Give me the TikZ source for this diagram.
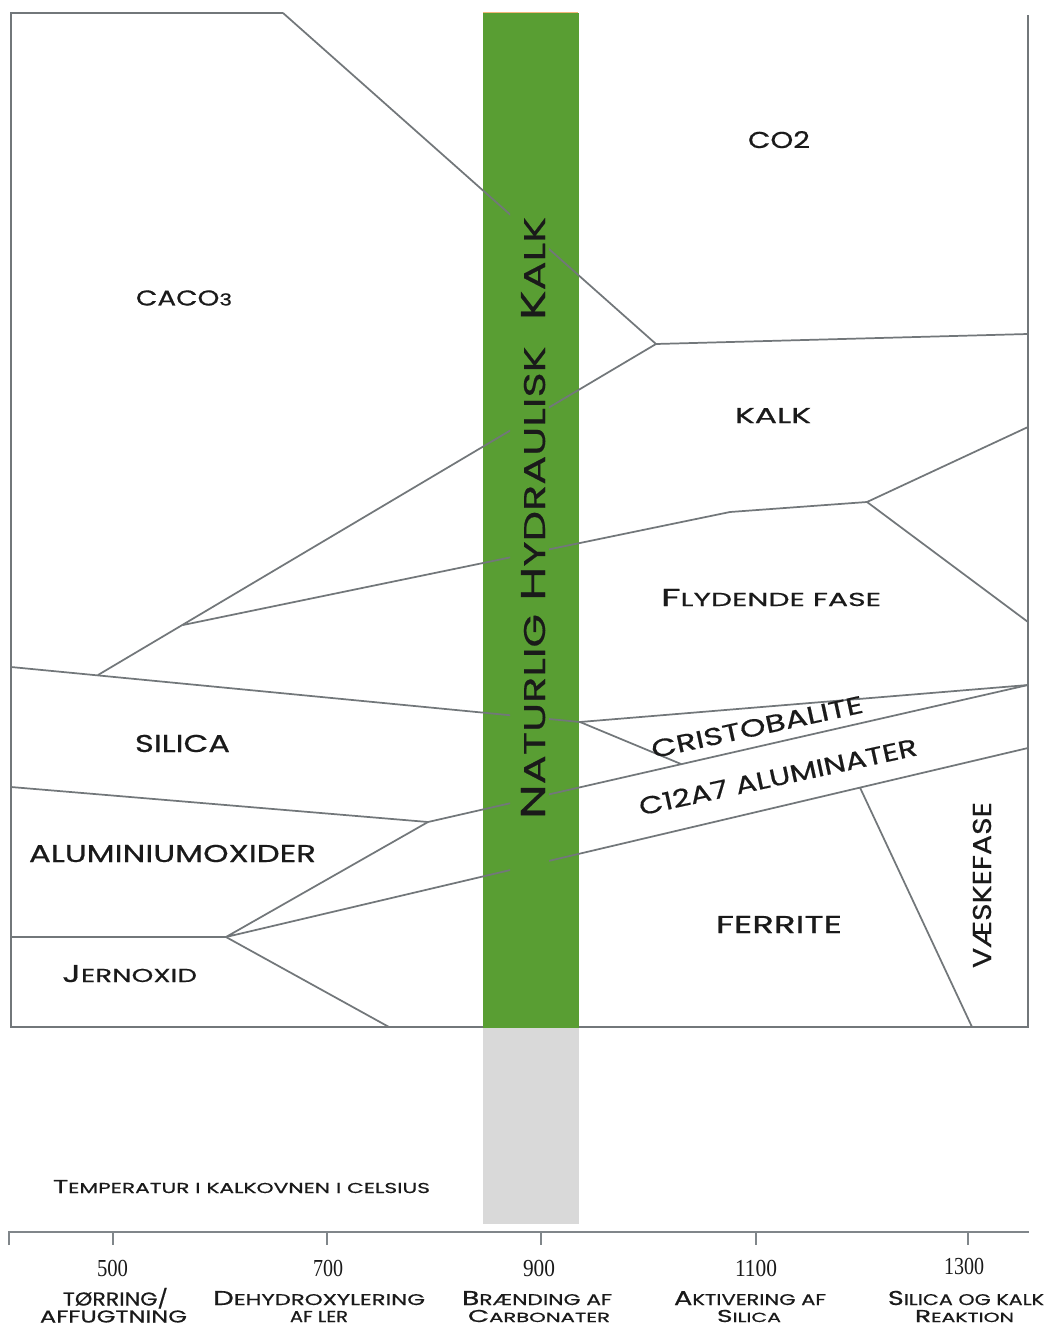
\documentclass[tikz,border=0pt]{standalone}
\usepackage{fontspec}
\usepackage{graphicx}
\setmainfont{Poppins}[FakeBold=0.5]
\newfontfamily\numfont{Liberation Serif}
\newdimen\px \px=0.75pt
\newcommand\Sm[1]{{\fontsize{7.7}{8}\selectfont #1}}
\newcommand\Sv[1]{{\fontsize{8.7}{9}\selectfont #1}}
\newcommand\fit[3]{\resizebox{#1\px}{#2\px}{\smash{#3}\vphantom{T}}}
\definecolor{barGreen}{HTML}{599E33}
\definecolor{barGray}{HTML}{D9D9D9}
\definecolor{lineGray}{HTML}{72777A}
\definecolor{axisGray}{HTML}{80868A}
\definecolor{txt}{HTML}{1A1A1A}
\definecolor{topOrange}{HTML}{F3B67A}
\newcommand\phaselines{%
  \draw[pl] (tt) -- (J1) -- (Rco);
  \draw[pl] (J1) -- (A);
  \draw[pl] (B) -- (Bend) -- (J2) -- (R2);
  \draw[pl] (J2) -- (R3);
  \draw[pl] (S0) -- (J3) -- (R4);
  \draw[pl] (J3) -- (C1);
  \draw[pl] (Al0) -- (J4) -- (R4);
  \draw[pl] (J4) -- (J5) -- (R5);
  \draw[pl] (Fe0) -- (J5) -- (Fe1);
  \draw[pl] (V1) -- (V2);
}
\begin{document}
\begin{tikzpicture}[x={(0.75pt,0)},y={(0,-0.75pt)},
  pl/.style={draw=lineGray, line width=1.3pt, line join=round},
  framel/.style={draw=lineGray, line width=1.6pt},
  axisl/.style={draw=axisGray, line width=2pt},
  lab/.style={inner sep=0pt, outer sep=0pt, text=txt, font=\fontsize{10}{12}\selectfont},
  num/.style={inner sep=0pt, outer sep=0pt, text=txt, font=\numfont\fontsize{10}{12}\selectfont}]
\useasboundingbox (0,0) rectangle (1045,1326);
\fill[white] (0,0) rectangle (1045,1326);
% bars
\fill[barGreen] (483,13) rectangle (579,1028);
\fill[barGray] (483,1028) rectangle (579,1224);
\draw[topOrange, line width=0.8pt] (483,12.3) -- (578,12.3);
% coordinates
\coordinate (tl) at (11,13);
\coordinate (tt) at (283,13);
\coordinate (bl) at (11,1027);
\coordinate (br) at (1028,1027);
\coordinate (tr) at (1028,15);
\coordinate (J1) at (656,344);
\coordinate (Rco) at (1028,334);
\coordinate (A) at (98,675);
\coordinate (B) at (183,625);
\coordinate (Bend) at (730,512);
\coordinate (J2) at (867,502);
\coordinate (R2) at (1028,427);
\coordinate (R3) at (1028,622);
\coordinate (S0) at (11,667);
\coordinate (J3) at (580,722);
\coordinate (R4) at (1028,685);
\coordinate (C1) at (681,764);
\coordinate (J4) at (428,822);
\coordinate (Al0) at (11,787);
\coordinate (J5) at (226,937);
\coordinate (Fe0) at (11,937);
\coordinate (Fe1) at (389,1027);
\coordinate (R5) at (1028,748);
\coordinate (V1) at (860,787.6);
\coordinate (V2) at (972,1027);
\coordinate (gl) at (483,1027);
\coordinate (gr) at (579,1027);
% frame
\draw[framel] (tt) -- (tl) -- (bl) -- (gl);
\draw[framel] (gr) -- (br) -- (tr);
% phase boundaries (interrupted in the middle of the bar)
\begin{scope}\clip (0,0) rectangle (510,1326); \phaselines \end{scope}
\begin{scope}\clip (549,0) rectangle (1045,1326); \phaselines \end{scope}
% labels
\node[lab] (caco) at (184,298) {\fit{96}{15}{CACO\Sm{3}}};
\node[lab] (co2) at (779,140) {\fit{62}{16}{CO2}};
\node[lab] (kalk) at (773,415.5) {\fit{76}{15}{KALK}};
\node[lab] (flyd) at (771,597.5) {\fit{220}{17}{F\Sm{LYDENDE FASE}}};
\node[lab] (sil) at (182.5,743.5) {\fit{95}{17}{SILICA}};
\node[lab] (alu) at (172.5,853.5) {\fit{287}{17}{ALUMINIUMOXIDER}};
\node[lab] (jern) at (129.5,973.5) {\fit{135}{17}{J\Sm{ERNOXID}}};
\node[lab] (ferr) at (779,924.5) {\fit{126}{17}{FERRITE}};
\node[lab, rotate=90] (vaes) at (982,885) {\fit{166}{18}{VÆSKEFASE}};
\node[lab, rotate=12.3] (crist) at (757,727) {\fit{216}{17}{CRISTOBALITE}};
\node[lab, rotate=12.3] (c12) at (778,777) {\fit{284}{17}{C12A7 ALUMINATER}};
\node[lab, rotate=90] (nhk) at (533,518) {\fit{602}{24}{N\Sv{ATURLIG} H\Sv{YDRAULISK}\ \ K\Sv{ALK}}};
\node[lab] (temp) at (241.5,1186.5) {\fit{377}{13}{T\Sm{EMPERATUR I KALKOVNEN I CELSIUS}}};
% axis
\coordinate (ax0) at (9,1232);
\coordinate (ax1) at (1029,1232);
\draw[axisl] (9,1245) -- (ax0) -- (ax1);
\foreach \t in {113,327,541,756,968} \draw[axisl] (\t,1232) -- (\t,1245);
% numbers
\node[num] (n500) at (112.5,1268.5) {\fit{31}{16}{500}};
\node[num] (n700) at (328,1268.5) {\fit{30}{16}{700}};
\node[num] (n900) at (539,1268.5) {\fit{32}{16}{900}};
\node[num] (n1100) at (756,1268.5) {\fit{42}{16}{1100}};
\node[num] (n1300) at (964,1266) {\fit{40}{16}{1300}};
% captions
\node[lab] (c1a) at (115.5,1299) {\fit{105}{13}{TØRRING/}};
\node[lab] (c1b) at (113.5,1316.5) {\fit{147}{12}{AFFUGTNING}};
\node[lab] (c2a) at (319,1298) {\fit{212}{14}{D\Sm{EHYDROXYLERING}}};
\node[lab] (c2b) at (319,1316.5) {\fit{58}{11}{AF LER}};
\node[lab] (c3a) at (537,1298) {\fit{150}{14}{B\Sm{RÆNDING AF}}};
\node[lab] (c3b) at (539,1316) {\fit{142}{12}{C\Sm{ARBONATER}}};
\node[lab] (c4a) at (750,1298) {\fit{152}{14}{A\Sm{KTIVERING AF}}};
\node[lab] (c4b) at (749,1316) {\fit{64}{12}{S\Sm{ILICA}}};
\node[lab] (c5a) at (966,1298) {\fit{156}{14}{S\Sm{ILICA OG KALK}}};
\node[lab] (c5b) at (964.5,1316) {\fit{99}{12}{R\Sm{EAKTION}}};
\end{tikzpicture}
\end{document}
